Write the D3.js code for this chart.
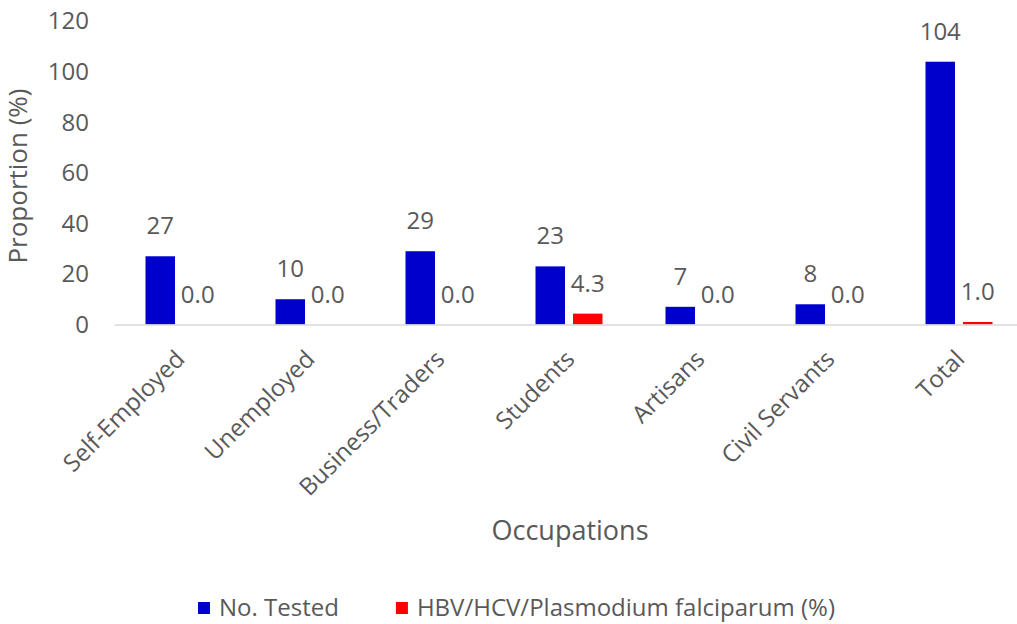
<!DOCTYPE html>
<html>
<head>
<meta charset="utf-8">
<script src="https://cdn.jsdelivr.net/npm/d3@7"></script>
<style>
  html, body { margin: 0; padding: 0; background: #fff; }
  svg { display: block; font-family: "Open Sans", "Noto Sans", sans-serif; }
</style>
</head>
<body>
<svg id="chart" width="1017" height="624"></svg>
<script>
// Occupation groups and the two series plotted for each
const categories = ["Self-Employed", "Unemployed", "Business/Traders", "Students", "Artisans", "Civil Servants", "Total"];
const noTested = [27, 10, 29, 23, 7, 8, 104];
const positivePct = [0.0, 0.0, 0.0, 4.3, 0.0, 0.0, 1.0];
const seriesNames = ["No. Tested", "HBV/HCV/Plasmodium falciparum (%)"];
const yTicks = [0, 20, 40, 60, 80, 100, 120];

const colors = ["#0000CC", "#FF0000"];
const textColor = "#595959";
const font = "'Open Sans', 'Noto Sans', sans-serif";

const svg = d3.select("#chart");

const x0 = d3.scaleBand().domain(categories).range([114, 1024]).padding(0);
const x1 = d3.scaleBand().domain([0, 1]).range([31.5, 98.5]).paddingInner(0.213).paddingOuter(0);
const y = d3.scaleLinear().domain([0, 120]).range([324.5, 21.3]);

const rows = categories.map((c, i) => ({ cat: c, values: [noTested[i], positivePct[i]] }));

// y axis: labels only, no line or ticks
const yAxis = svg.append("g")
  .attr("transform", "translate(89,0)")
  .call(d3.axisLeft(y).tickValues(yTicks).tickSize(0).tickPadding(0).tickFormat(d3.format("d")));
yAxis.attr("font-family", null);
yAxis.select(".domain").remove();
yAxis.selectAll("text")
  .attr("fill", textColor)
  .style("font-size", "24px")
  .style("font-family", font);

// bars
const groups = svg.append("g").selectAll("g")
  .data(rows)
  .join("g")
  .attr("transform", d => `translate(${x0(d.cat)},0)`);

groups.selectAll("rect")
  .data(d => d.values.map((v, k) => ({ v, k })))
  .join("rect")
  .attr("x", d => x1(d.k))
  .attr("width", x1.bandwidth())
  .attr("y", d => y(d.v))
  .attr("height", d => y(0) - y(d.v))
  .attr("fill", d => colors[d.k]);

// value labels above each bar
groups.selectAll("text.val")
  .data(d => d.values.map((v, k) => ({ v, k })))
  .join("text")
  .attr("class", "val")
  .attr("x", d => x1(d.k) + x1.bandwidth() / 2)
  .attr("y", d => y(d.v) - 22)
  .attr("text-anchor", "middle")
  .attr("fill", textColor)
  .style("font-size", "24px")
  .text(d => d.k === 0 ? d3.format("d")(d.v) : d3.format(".1f")(d.v));

// x axis baseline and rotated category labels
const xAxis = svg.append("g")
  .attr("transform", `translate(0,${y(0)})`)
  .call(d3.axisBottom(x0).tickSize(0).tickFormat(d => d));
xAxis.attr("font-family", null);
xAxis.select(".domain").attr("stroke", "#D9D9D9").attr("stroke-width", 1.5);
xAxis.selectAll(".tick text")
  .attr("fill", textColor)
  .style("font-size", "24px")
  .style("font-family", font)
  .attr("text-anchor", "end")
  .attr("x", 0)
  .attr("y", 0)
  .attr("dy", "0.71em")
  .attr("transform", "translate(-5,24) rotate(-45)");

// axis titles
svg.append("text")
  .attr("transform", "translate(27,176) rotate(-90)")
  .attr("text-anchor", "middle")
  .attr("fill", textColor)
  .style("font-size", "26px")
  .text("Proportion (%)");

svg.append("text")
  .attr("x", 570)
  .attr("y", 540)
  .attr("text-anchor", "middle")
  .attr("fill", textColor)
  .style("font-size", "27px")
  .text("Occupations");

// legend
const legend = svg.append("g").attr("transform", "translate(0,608)");
let lx = 198;
seriesNames.forEach((name, i) => {
  legend.append("rect")
    .attr("x", lx).attr("y", -6)
    .attr("width", 12).attr("height", 12)
    .attr("fill", colors[i]);
  const t = legend.append("text")
    .attr("x", lx + 21)
    .attr("y", 0)
    .attr("dy", "0.35em")
    .attr("fill", textColor)
    .style("font-size", "24px")
    .text(name);
  lx += 21 + t.node().getComputedTextLength() + 57;
});
</script>
</body>
</html>
